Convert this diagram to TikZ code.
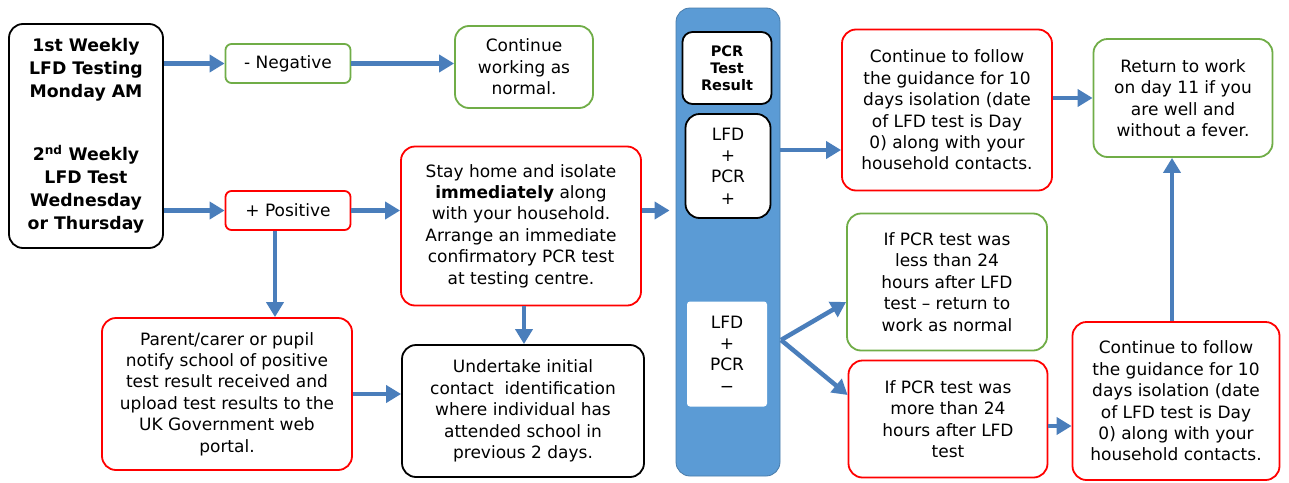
\documentclass[tikz,border=0pt]{standalone}
\usepackage{fontspec}
\setmainfont{DejaVu Sans}
\usetikzlibrary{arrows.meta}
\definecolor{arrblue}{HTML}{4A7EBB}
\definecolor{colblue}{HTML}{5B9BD5}
\definecolor{okgreen}{HTML}{70AD47}
\begin{document}
\begin{tikzpicture}[x=1pt,y=-1pt,
    box/.style={draw,line width=1.8pt,rounded corners=14pt,align=center,inner sep=0pt,fill=white,
      font=\fontsize{17}{21.4}\selectfont},
    redbox/.style={box,draw=red},
    greenbox/.style={box,draw=okgreen},
    blackbox/.style={box,draw=black},
    arr/.style={draw=arrblue,line width=4.5pt,-{Triangle[length=15pt,width=17pt]}}]
	\fill[white] (0,0) rectangle (1289,482);
	\useasboundingbox (0,0) rectangle (1289,482);
	% left part
	\node[blackbox,minimum width=154,minimum height=224,font=\fontsize{17.3}{23}\selectfont\bfseries] (week) at (86,136)
		{1st Weekly\\LFD Testing\\Monday AM\\[40pt]2\textsuperscript{nd} Weekly\\LFD Test\\Wednesday\\or Thursday};
	\node[greenbox,rounded corners=6pt,minimum width=125,minimum height=39] (neg) at (288,63.5) {- Negative};
	\node[redbox,rounded corners=6pt,minimum width=125,minimum height=39] (pos) at (288,210.5) {+ Positive};
	\node[greenbox,minimum width=138,minimum height=82] (work) at (524,67) {Continue\\working as\\normal.};
	\node[redbox,minimum width=240,minimum height=159] (stay) at (521,226)
		{Stay home and isolate\\\textbf{immediately} along\\with your household.\\Arrange an immediate\\confirmatory PCR test\\at testing centre.};
	\node[redbox,minimum width=250,minimum height=152] (notify) at (227,394)
		{Parent/carer or pupil\\notify school of positive\\test result received and\\upload test results to the\\UK Government web\\portal.};
	\node[blackbox,minimum width=242,minimum height=132] (undertake) at (523,411)
		{Undertake initial\\contact\ \ identification\\where individual has\\attended school in\\previous 2 days.};
	% PCR column
	\node[draw=colblue!80!black,line width=0.8pt,fill=colblue,rounded corners=14pt,minimum width=104,minimum height=468,inner sep=0pt] (col) at (728,242) {};
	\node[blackbox,rounded corners=10pt,minimum width=89,minimum height=72,font=\fontsize{14.5}{16.8}\selectfont\bfseries] (pcrres) at (727,68) {PCR\\Test\\Result};
	\node[blackbox,minimum width=85,minimum height=104] (lfdpos) at (728,166) {LFD\\+\\PCR\\+};
	\node[box,draw=none,rounded corners=3pt,minimum width=80,minimum height=105] (lfdneg) at (727,354) {LFD\\+\\PCR\\−};
	% right part
	\node[redbox,minimum width=210,minimum height=161] (cont1) at (947,110)
		{Continue to follow\\the guidance for 10\\days isolation (date\\of LFD test is Day\\0) along with your\\household contacts.};
	\node[greenbox,minimum width=179,minimum height=118] (ret) at (1183,98)
		{Return to work\\on day 11 if you\\are well and\\without a fever.};
	\node[greenbox,minimum width=200,minimum height=137] (less) at (947,282)
		{If PCR test was\\less than 24\\hours after LFD\\test – return to\\work as normal};
	\node[redbox,minimum width=199,minimum height=117] (more) at (948,419)
		{If PCR test was\\more than 24\\hours after LFD\\test};
	\node[redbox,minimum width=207,minimum height=158] (cont2) at (1176,401)
		{Continue to follow\\the guidance for 10\\days isolation (date\\of LFD test is Day\\0) along with your\\household contacts.};
	% connectors
	\coordinate (p1) at ([yshift=16pt]lfdpos.center);
	\coordinate (fork) at (781,340);
	\draw[arr] (week.east |- neg) -- (neg.west);
	\draw[arr] (week.east |- pos) -- (pos.west);
	\draw[arr] (neg.east) -- (neg.east -| work.west);
	\draw[arr] (pos.east) -- (pos.east -| stay.west);
	\draw[arr] ([xshift=-13pt]pos.south) -- ([xshift=-13pt]pos.south |- notify.north);
	\draw[arr] ([xshift=3pt]stay.south) -- ([xshift=3pt]stay.south |- undertake.north);
	\draw[arr] (notify.east) -- (notify.east -| undertake.west);
	\draw[arr] (stay.east |- pos) -- ([xshift=-6pt]col.west |- pos);
	\draw[arr] (col.east |- p1) -- (cont1.west |- p1);
	\draw[arr] (fork) -- ([yshift=-20pt]less.west);
	\draw[arr] (fork) -- ([yshift=24pt]more.west);
	\draw[arr] (cont1.east |- ret) -- (ret.west);
	\draw[arr] ([yshift=-7pt]more.east) -- ([yshift=-7pt]more.east -| cont2.west);
	\draw[arr] ([xshift=-4pt]cont2.north) -- ([xshift=-4pt]cont2.north |- ret.south);
\end{tikzpicture}
\end{document}
